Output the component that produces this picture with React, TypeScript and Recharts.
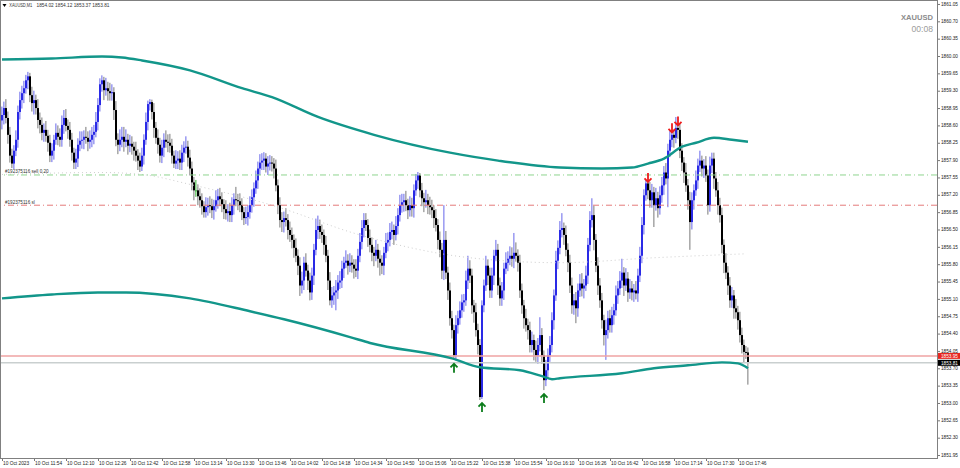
import { ComposedChart, Bar, Line, XAxis, YAxis, ReferenceLine } from 'recharts';

// XAUUSD M1, 10 Oct 2023 11:38 .. 17:51 (one value per minute bar)
const firstOpen = 1858.70;
const closes = [
  1858.81, 1858.95, 1858.75, 1858.41, 1857.99, 1857.83, 1858.09, 1858.31, 1858.87, 1859.11, 1859.25, 1859.35, 1859.51, 1859.59, 1859.21, 1859.05, 1859.11, 1858.95, 1858.71, 1858.61,
  1858.45, 1858.51, 1858.39, 1858.25, 1857.99, 1858.09, 1858.31, 1858.45, 1858.37, 1858.31, 1858.61, 1858.75, 1858.59, 1858.51, 1858.31, 1858.05, 1857.85, 1857.93, 1858.21, 1858.29,
  1858.31, 1858.37, 1858.35, 1858.27, 1858.31, 1858.41, 1858.47, 1858.67, 1859.01, 1859.43, 1859.51, 1859.31, 1859.35, 1859.29, 1859.25, 1859.27, 1858.91, 1858.31, 1858.21, 1858.31,
  1858.37, 1858.27, 1858.31, 1858.19, 1858.23, 1858.17, 1858.09, 1857.99, 1857.89, 1857.77, 1857.99, 1858.31, 1858.67, 1859.03, 1859.07, 1858.87, 1858.55, 1858.35, 1858.21, 1857.99,
  1858.15, 1858.31, 1858.27, 1858.25, 1858.19, 1857.99, 1857.83, 1857.89, 1857.93, 1857.85, 1858.05, 1858.15, 1858.17, 1857.95, 1857.73, 1857.45, 1857.29, 1857.29, 1857.17, 1857.09,
  1856.97, 1856.85, 1856.95, 1856.99, 1856.97, 1856.89, 1856.97, 1857.09, 1857.17, 1857.11, 1857.01, 1856.91, 1856.83, 1856.87, 1856.79, 1856.99, 1857.11, 1857.09, 1857.07, 1856.99,
  1856.85, 1856.73, 1856.75, 1856.85, 1856.99, 1857.15, 1857.33, 1857.49, 1857.73, 1857.85, 1857.89, 1857.93, 1857.77, 1857.83, 1857.85, 1857.83, 1857.73, 1857.39, 1856.99, 1856.69,
  1856.65, 1856.73, 1856.69, 1856.49, 1856.39, 1856.29, 1856.13, 1855.97, 1855.77, 1855.37, 1855.47, 1855.83, 1855.67, 1855.47, 1855.23, 1855.57, 1856.09, 1856.49, 1856.57, 1856.45,
  1856.39, 1856.19, 1855.97, 1855.47, 1855.07, 1855.17, 1855.23, 1855.27, 1855.43, 1855.47, 1855.71, 1855.83, 1855.87, 1855.77, 1855.83, 1855.79, 1855.71, 1855.67, 1855.97, 1856.25,
  1856.53, 1856.69, 1856.59, 1856.33, 1856.19, 1856.03, 1855.97, 1856.09, 1855.91, 1855.83, 1855.77, 1856.03, 1856.23, 1856.29, 1856.45, 1856.49, 1856.39, 1856.57, 1856.79, 1856.99,
  1857.05, 1857.09, 1856.99, 1856.89, 1856.99, 1856.93, 1857.29, 1857.49, 1857.59, 1857.29, 1857.13, 1857.05, 1857.09, 1856.99, 1856.95, 1856.89, 1856.73, 1856.59, 1856.29, 1856.09,
  1855.67, 1856.29, 1855.63, 1855.27, 1854.71, 1854.47, 1853.96, 1854.57, 1854.71, 1854.87, 1855.03, 1855.07, 1855.47, 1855.71, 1855.57, 1854.97, 1854.83, 1854.47, 1854.17, 1853.12,
  1854.97, 1855.37, 1855.77, 1855.57, 1855.27, 1855.57, 1855.97, 1856.09, 1855.37, 1855.11, 1855.27, 1855.71, 1855.83, 1855.91, 1855.97, 1855.91, 1856.03, 1855.97, 1855.83, 1855.27,
  1854.97, 1854.71, 1854.57, 1854.47, 1854.17, 1854.27, 1854.07, 1853.96, 1854.17, 1854.37, 1853.96, 1853.46, 1853.66, 1853.96, 1854.17, 1854.67, 1855.17, 1855.87, 1856.13, 1856.49,
  1856.53, 1856.39, 1856.09, 1855.83, 1855.37, 1854.97, 1855.07, 1854.91, 1855.27, 1855.41, 1855.31, 1855.37, 1855.57, 1856.19, 1856.69, 1856.79, 1856.29, 1855.77, 1855.37, 1855.07,
  1854.67, 1854.37, 1854.47, 1854.71, 1854.57, 1854.77, 1854.87, 1855.17, 1855.31, 1855.47, 1855.63, 1855.37, 1855.51, 1855.23, 1855.31, 1855.23, 1855.27, 1855.21, 1855.57, 1855.97,
  1856.59, 1857.19, 1857.43, 1857.29, 1857.09, 1857.25, 1856.99, 1857.13, 1856.93, 1857.19, 1857.39, 1857.65, 1857.53, 1858.09, 1858.31, 1858.41, 1858.35, 1858.55, 1858.51, 1858.09,
  1857.85, 1857.65, 1857.39, 1857.09, 1856.65, 1857.09, 1857.29, 1857.49, 1857.79, 1857.89, 1857.73, 1857.79, 1857.59, 1856.99, 1857.79, 1857.93, 1857.53, 1857.29, 1856.99, 1856.79,
  1856.19, 1855.83, 1855.63, 1855.37, 1855.07, 1855.17, 1854.91, 1854.83, 1854.67, 1854.37, 1854.17, 1854.03, 1854.02, 1853.81,
];
const highs = [
  1858.98, 1859.08, 1859.13, 1858.88, 1858.57, 1858.13, 1858.20, 1858.50, 1859.00, 1859.28, 1859.40, 1859.50, 1859.62, 1859.68, 1859.66, 1859.38, 1859.30, 1859.22, 1859.13, 1858.86,
  1858.76, 1858.64, 1858.69, 1858.51, 1858.41, 1858.24, 1858.41, 1858.64, 1858.60, 1858.54, 1858.80, 1858.91, 1858.93, 1858.72, 1858.67, 1858.45, 1858.15, 1858.13, 1858.34, 1858.48,
  1858.48, 1858.50, 1858.57, 1858.48, 1858.50, 1858.57, 1858.61, 1858.87, 1859.15, 1859.55, 1859.61, 1859.58, 1859.56, 1859.48, 1859.46, 1859.43, 1859.37, 1859.09, 1858.44, 1858.52,
  1858.57, 1858.57, 1858.52, 1858.43, 1858.41, 1858.38, 1858.27, 1858.27, 1858.12, 1858.05, 1858.15, 1858.42, 1858.86, 1859.10, 1859.13, 1859.12, 1859.05, 1858.67, 1858.52, 1858.35,
  1858.31, 1858.44, 1858.50, 1858.42, 1858.43, 1858.33, 1858.09, 1858.10, 1858.08, 1858.10, 1858.21, 1858.28, 1858.38, 1858.29, 1858.11, 1857.87, 1857.56, 1857.50, 1857.41, 1857.33,
  1857.23, 1857.07, 1857.15, 1857.14, 1857.17, 1857.12, 1857.10, 1857.29, 1857.32, 1857.34, 1857.25, 1857.11, 1857.09, 1857.01, 1857.04, 1857.15, 1857.23, 1857.36, 1857.22, 1857.23,
  1857.13, 1856.95, 1856.96, 1856.99, 1857.17, 1857.31, 1857.45, 1857.69, 1857.87, 1858.02, 1858.04, 1858.06, 1858.04, 1857.98, 1858.00, 1857.98, 1857.94, 1857.91, 1857.51, 1857.15,
  1856.85, 1856.86, 1856.93, 1856.81, 1856.66, 1856.54, 1856.40, 1856.32, 1856.10, 1855.94, 1855.65, 1855.95, 1856.02, 1855.79, 1855.63, 1855.73, 1856.21, 1856.72, 1856.78, 1856.70,
  1856.60, 1856.50, 1856.37, 1856.09, 1855.64, 1855.34, 1855.36, 1855.48, 1855.58, 1855.66, 1855.87, 1855.95, 1856.08, 1856.00, 1856.02, 1855.98, 1855.90, 1855.90, 1856.11, 1856.43,
  1856.69, 1856.83, 1856.83, 1856.71, 1856.50, 1856.34, 1856.15, 1856.29, 1856.21, 1856.08, 1855.98, 1856.15, 1856.43, 1856.44, 1856.63, 1856.66, 1856.60, 1856.77, 1856.93, 1857.20,
  1857.22, 1857.22, 1857.28, 1857.12, 1857.17, 1857.14, 1857.41, 1857.62, 1857.66, 1857.64, 1857.44, 1857.24, 1857.30, 1857.22, 1857.16, 1857.10, 1856.99, 1856.91, 1856.71, 1856.46,
  1856.23, 1856.99, 1856.47, 1855.75, 1855.43, 1854.86, 1854.58, 1854.77, 1854.86, 1855.05, 1855.19, 1855.20, 1855.67, 1855.97, 1855.88, 1855.71, 1855.08, 1855.02, 1854.60, 1854.29,
  1855.07, 1855.49, 1855.97, 1855.90, 1855.73, 1855.73, 1856.09, 1856.29, 1856.21, 1855.53, 1855.44, 1855.83, 1856.04, 1856.06, 1856.16, 1856.14, 1856.43, 1856.24, 1856.10, 1855.99,
  1855.41, 1855.08, 1854.90, 1854.70, 1854.64, 1854.44, 1854.38, 1854.26, 1854.31, 1854.73, 1854.51, 1854.06, 1853.87, 1854.10, 1854.35, 1854.83, 1855.29, 1856.07, 1856.28, 1856.67,
  1856.83, 1856.64, 1856.58, 1856.22, 1855.99, 1855.53, 1855.20, 1855.24, 1855.41, 1855.60, 1855.62, 1855.50, 1855.77, 1856.33, 1856.87, 1857.13, 1856.98, 1856.41, 1855.94, 1855.52,
  1855.22, 1854.78, 1854.68, 1854.86, 1854.88, 1854.94, 1855.00, 1855.37, 1855.46, 1855.66, 1855.91, 1855.74, 1855.72, 1855.64, 1855.50, 1855.46, 1855.40, 1855.46, 1855.71, 1856.15,
  1856.75, 1857.31, 1857.50, 1857.48, 1857.46, 1857.42, 1857.36, 1857.34, 1857.26, 1857.37, 1857.56, 1857.78, 1857.84, 1858.23, 1858.50, 1858.48, 1858.52, 1858.77, 1858.62, 1858.63,
  1858.24, 1857.96, 1857.84, 1857.52, 1857.26, 1857.25, 1857.41, 1857.69, 1857.93, 1858.09, 1857.99, 1857.92, 1857.98, 1857.71, 1857.97, 1858.05, 1858.05, 1857.66, 1857.46, 1857.14,
  1856.94, 1856.30, 1856.02, 1855.76, 1855.54, 1855.34, 1855.28, 1855.10, 1854.96, 1854.84, 1854.52, 1854.28, 1854.15, 1854.12,
];
const lows = [
  1858.52, 1858.62, 1858.64, 1858.23, 1857.85, 1857.74, 1857.72, 1857.98, 1858.15, 1858.72, 1858.94, 1859.05, 1859.24, 1859.33, 1859.07, 1858.88, 1858.82, 1858.82, 1858.54, 1858.44,
  1858.30, 1858.27, 1858.27, 1858.07, 1857.86, 1857.86, 1857.91, 1858.21, 1858.20, 1858.17, 1858.17, 1858.43, 1858.48, 1858.33, 1858.17, 1857.89, 1857.72, 1857.72, 1857.76, 1858.08,
  1858.13, 1858.12, 1858.23, 1858.08, 1858.13, 1858.16, 1858.22, 1858.36, 1858.50, 1858.88, 1859.28, 1859.11, 1859.20, 1859.10, 1859.10, 1859.10, 1858.71, 1858.18, 1858.02, 1858.08,
  1858.16, 1858.07, 1858.16, 1858.01, 1858.06, 1858.01, 1857.89, 1857.87, 1857.70, 1857.66, 1857.68, 1857.81, 1858.21, 1858.50, 1858.90, 1858.72, 1858.35, 1858.23, 1858.03, 1857.85,
  1857.84, 1857.96, 1858.15, 1858.06, 1858.05, 1857.83, 1857.74, 1857.72, 1857.72, 1857.70, 1857.70, 1857.86, 1858.03, 1857.77, 1857.59, 1857.29, 1857.09, 1857.16, 1856.99, 1856.94,
  1856.80, 1856.74, 1856.74, 1856.78, 1856.83, 1856.73, 1856.70, 1856.86, 1856.92, 1856.97, 1856.85, 1856.71, 1856.70, 1856.66, 1856.65, 1856.65, 1856.80, 1856.97, 1856.89, 1856.85,
  1856.69, 1856.59, 1856.61, 1856.58, 1856.72, 1856.84, 1856.96, 1857.22, 1857.32, 1857.60, 1857.70, 1857.70, 1857.65, 1857.60, 1857.69, 1857.67, 1857.53, 1857.27, 1856.81, 1856.54,
  1856.45, 1856.44, 1856.56, 1856.30, 1856.25, 1856.12, 1855.93, 1855.84, 1855.58, 1855.16, 1855.21, 1855.28, 1855.55, 1855.28, 1855.07, 1855.08, 1855.38, 1855.98, 1856.31, 1856.31,
  1856.23, 1855.99, 1855.84, 1855.28, 1854.97, 1854.92, 1854.98, 1854.87, 1855.10, 1855.30, 1855.32, 1855.52, 1855.72, 1855.59, 1855.64, 1855.63, 1855.51, 1855.54, 1855.50, 1855.84,
  1856.10, 1856.34, 1856.47, 1856.15, 1856.04, 1855.86, 1855.76, 1855.86, 1855.73, 1855.57, 1855.60, 1855.58, 1855.92, 1856.06, 1856.16, 1856.30, 1856.19, 1856.28, 1856.40, 1856.66,
  1856.84, 1856.86, 1856.87, 1856.71, 1856.76, 1856.76, 1856.74, 1857.18, 1857.32, 1857.15, 1856.97, 1856.85, 1856.94, 1856.81, 1856.80, 1856.73, 1856.53, 1856.46, 1856.10, 1855.94,
  1855.50, 1855.48, 1855.50, 1855.08, 1854.56, 1854.30, 1853.87, 1853.86, 1854.40, 1854.58, 1854.72, 1854.84, 1854.96, 1855.30, 1855.42, 1854.80, 1854.62, 1854.34, 1853.98, 1853.06,
  1853.08, 1854.83, 1855.26, 1855.38, 1855.12, 1855.12, 1855.38, 1855.86, 1855.18, 1854.96, 1854.96, 1855.08, 1855.60, 1855.66, 1855.78, 1855.75, 1855.72, 1855.85, 1855.65, 1855.12,
  1854.80, 1854.50, 1854.44, 1854.28, 1854.02, 1854.02, 1853.86, 1853.83, 1853.79, 1854.04, 1853.79, 1853.26, 1853.34, 1853.49, 1853.83, 1854.02, 1854.48, 1855.06, 1855.70, 1856.00,
  1856.34, 1856.19, 1855.96, 1855.64, 1855.22, 1854.80, 1854.78, 1854.61, 1854.74, 1855.14, 1855.15, 1855.11, 1855.26, 1855.40, 1856.06, 1856.54, 1856.08, 1855.64, 1855.18, 1854.92,
  1854.50, 1854.16, 1853.87, 1854.30, 1854.42, 1854.42, 1854.58, 1854.76, 1855.00, 1855.18, 1855.32, 1855.16, 1855.26, 1855.04, 1855.10, 1855.07, 1855.04, 1855.09, 1855.04, 1855.44,
  1855.82, 1856.40, 1857.08, 1857.11, 1856.94, 1856.94, 1856.55, 1856.88, 1856.74, 1856.80, 1857.04, 1857.20, 1857.41, 1856.95, 1857.96, 1858.16, 1858.15, 1858.24, 1858.33, 1857.94,
  1857.68, 1857.44, 1857.26, 1856.90, 1856.09, 1856.50, 1856.90, 1857.18, 1857.32, 1857.66, 1857.57, 1857.54, 1857.46, 1856.80, 1856.86, 1857.64, 1857.32, 1857.16, 1856.80, 1856.64,
  1856.02, 1855.62, 1855.50, 1855.18, 1854.92, 1854.92, 1854.70, 1854.70, 1854.48, 1854.22, 1854.00, 1853.82, 1853.89, 1853.37,
];

// channel indicator, read at a few bars (library draws the curve between them)
const upperIdx = [0, 25, 50, 60, 70, 94, 120, 135, 158, 186, 224, 248, 279, 300, 315, 323, 331, 340, 347, 356, 365, 373];
const upperBand = [1859.93, 1859.95, 1859.99, 1859.97, 1859.91, 1859.71, 1859.35, 1859.17, 1858.77, 1858.41, 1858.05, 1857.89, 1857.75, 1857.73, 1857.75, 1857.83, 1857.93, 1858.17, 1858.25, 1858.35, 1858.31, 1858.27];
const lowerIdx = [0, 25, 48, 62, 94, 124, 141, 174, 184, 225, 239, 259, 270, 275, 279, 310, 326, 343, 360, 368, 373];
const lowerBand = [1855.11, 1855.19, 1855.23, 1855.23, 1855.11, 1854.85, 1854.69, 1854.33, 1854.21, 1853.90, 1853.72, 1853.66, 1853.54, 1853.48, 1853.50, 1853.60, 1853.70, 1853.76, 1853.82, 1853.80, 1853.70];
const midIdx = [0, 50, 70, 94, 135, 179, 234, 279, 326, 372];
const midBand = [1857.61, 1857.65, 1857.61, 1857.41, 1856.99, 1856.39, 1855.93, 1855.83, 1855.93, 1856.01];

const buySignalBars = [226, 240, 271];
const sellSignalBars = [323, 335, 338];

const orderPrice = 1857.60;
const stopPrice = 1856.99;
const askPrice = 1853.95;
const bidPrice = 1853.81;
const lastBar = { open: 1854.02, high: 1854.12, low: 1853.37, close: 1853.81 };

const yTicks = [
  1861.05, 1860.70, 1860.35, 1860.00, 1859.65, 1859.30, 1858.95, 1858.60, 1858.25, 1857.90, 1857.55, 1857.20, 1856.85, 1856.50,
  1856.15, 1855.80, 1855.45, 1855.10, 1854.75, 1854.40, 1854.05, 1853.70, 1853.35, 1853.00, 1852.65, 1852.30, 1851.95,
];
const timeLabels = [
  '10 Oct 2023', '10 Oct 11:54', '10 Oct 12:10', '10 Oct 12:26', '10 Oct 12:42', '10 Oct 12:58', '10 Oct 13:14', '10 Oct 13:30',
  '10 Oct 13:46', '10 Oct 14:02', '10 Oct 14:18', '10 Oct 14:34', '10 Oct 14:50', '10 Oct 15:06', '10 Oct 15:22', '10 Oct 15:38',
  '10 Oct 15:54', '10 Oct 16:10', '10 Oct 16:26', '10 Oct 16:42', '10 Oct 16:58', '10 Oct 17:14', '10 Oct 17:30', '10 Oct 17:46',
];
const labelStep = 16;
const totalSlots = 468;

const W = 960;
const H = 468;
const PLOT_RIGHT = 937;
const PLOT_BOTTOM = 458;
const FONT = '"Liberation Sans", Arial, sans-serif';
const TEAL = '#12968a';

const rows: any[] = Array.from({ length: totalSlots }, (_, i) => {
  const row: any = { i };
  if (i < closes.length) {
    // MT4 bars open where the previous one closed
    row.open = i === 0 ? firstOpen : closes[i - 1];
    row.close = closes[i];
    row.high = highs[i];
    row.low = lows[i];
    row.range = [lows[i], highs[i]];
  }
  return row;
});
upperIdx.forEach((b, k) => (rows[b].upper = upperBand[k]));
lowerIdx.forEach((b, k) => (rows[b].lower = lowerBand[k]));
midIdx.forEach((b, k) => (rows[b].mid = midBand[k]));
buySignalBars.forEach((b) => (rows[b].buy = lows[b]));
sellSignalBars.forEach((b) => (rows[b].sell = highs[b]));

const Candle = (props: any) => {
  const { x, y, width, height, payload } = props;
  if (!payload || payload.close == null || !(height > 0)) return <g />;
  const { open, close, high, low } = payload;
  const k = height / (high - low);
  const yO = y + (high - open) * k;
  const yC = y + (high - close) * k;
  const cx = Math.round(x + width / 2);
  const flat = close === open;
  const up = close > open;
  const wick = flat ? '#7fd07f' : up ? '#a0a0f2' : '#ababab';
  const body = flat ? '#3cb043' : up ? '#2a2ae6' : '#000000';
  const top = Math.min(yO, yC);
  const bh = Math.max(Math.abs(yC - yO), 1);
  return (
    <g>
      <rect x={cx - 1} y={y} width={1.6} height={height} fill={wick} />
      <rect x={cx - 1} y={top} width={2} height={bh} fill={body} />
    </g>
  );
};

const BuyArrow = (props: any) => {
  const { cx, cy, payload } = props;
  if (!payload || payload.buy == null || cy == null) return <g key={`b${props.index}`} />;
  const t = cy + 4;
  return (
    <path
      key={`b${props.index}`}
      d={`M${cx - 3.5},${t + 3.5} L${cx},${t} L${cx + 3.5},${t + 3.5} M${cx},${t} L${cx},${t + 9}`}
      stroke="#0c7d1c"
      strokeWidth={1.8}
      fill="none"
    />
  );
};

const SellArrow = (props: any) => {
  const { cx, cy, payload } = props;
  if (!payload || payload.sell == null || cy == null) return <g key={`s${props.index}`} />;
  const t = cy + 1;
  return (
    <path
      key={`s${props.index}`}
      d={`M${cx - 3.5},${t - 3.5} L${cx},${t} L${cx + 3.5},${t - 3.5} M${cx},${t} L${cx},${t - 9}`}
      stroke="#ee1c1c"
      strokeWidth={1.8}
      fill="none"
    />
  );
};

const TimeTick = ({ x, payload }: any) => {
  const label = timeLabels[Math.round(payload.value / labelStep)];
  return (
    <g>
      <line x1={x + 0.5} x2={x + 0.5} y1={PLOT_BOTTOM} y2={PLOT_BOTTOM + 3} stroke="#777" />
      <text x={x + 1} y={PLOT_BOTTOM + 6.5} fontSize={4.8} fill="#222" fontFamily={FONT}>
        {label}
      </text>
    </g>
  );
};

const PriceTick = ({ y, payload }: any) => (
  <g>
    <line x1={PLOT_RIGHT} x2={PLOT_RIGHT + 3} y1={y + 0.5} y2={y + 0.5} stroke="#777" />
    <text x={PLOT_RIGHT + 4} y={y + 1.7} fontSize={4.7} fill="#222" fontFamily={FONT}>
      {Number(payload.value).toFixed(2)}
    </text>
  </g>
);

const OrderLabel = ({ viewBox, text }: any) => (
  <text x={viewBox.x + 4} y={viewBox.y - 1.5} fontSize={4.6} fill="#333" fontFamily={FONT}>
    {text}
  </text>
);

const PriceBox = ({ viewBox, value, fill }: any) => (
  <g>
    <rect x={viewBox.x + viewBox.width} y={viewBox.y - 3} width={W - viewBox.x - viewBox.width} height={6} fill={fill} />
    <text x={viewBox.x + viewBox.width + 4} y={viewBox.y + 1.7} fontSize={4.7} fill="#fff" fontFamily={FONT}>
      {value.toFixed(2)}
    </text>
  </g>
);

export default function App() {
  return (
    <div style={{ position: 'absolute', left: 0, top: 0, width: W, height: H, background: '#fff', overflow: 'hidden' }}>
      <ComposedChart
        width={W}
        height={H}
        data={rows}
        margin={{ top: 0, right: 0, bottom: 0, left: 1 }}
        barCategoryGap={0}
      >
        <XAxis
          dataKey="i"
          type="category"
          height={10}
          ticks={timeLabels.map((_, k) => k * labelStep)}
          interval={0}
          axisLine={false}
          tickLine={false}
          tick={<TimeTick />}
        />
        <YAxis
          orientation="right"
          width={23}
          domain={[1851.89, 1861.13]}
          allowDataOverflow
          ticks={yTicks}
          interval={0}
          axisLine={false}
          tickLine={false}
          tick={<PriceTick />}
        />
        <Line dataKey="mid" type="monotone" connectNulls stroke="#cfcfcf" strokeWidth={1} strokeDasharray="1 3" dot={false} activeDot={false} isAnimationActive={false} />
        <ReferenceLine y={orderPrice} stroke="#8fd48f" strokeDasharray="6 3 1 3" label={<OrderLabel text="#192375116 sell 0.20" />} />
        <ReferenceLine y={stopPrice} stroke="#e57a7a" strokeDasharray="6 3 1 3" label={<OrderLabel text="#192375116 sl" />} />
        <ReferenceLine y={askPrice} stroke="#efa3a3" strokeWidth={1.5} label={<PriceBox value={askPrice} fill="#e8261f" />} />
        <ReferenceLine y={bidPrice} stroke="#c9cfcf" strokeWidth={1.5} label={<PriceBox value={lastBar.close} fill="#000" />} />
        <Line dataKey="upper" type="monotone" connectNulls stroke={TEAL} strokeWidth={2.4} dot={false} activeDot={false} isAnimationActive={false} />
        <Line dataKey="lower" type="monotone" connectNulls stroke={TEAL} strokeWidth={2.4} dot={false} activeDot={false} isAnimationActive={false} />
        <Bar dataKey="range" shape={<Candle />} isAnimationActive={false} />
        <Line dataKey="buy" stroke="none" dot={<BuyArrow />} activeDot={false} isAnimationActive={false} />
        <Line dataKey="sell" stroke="none" dot={<SellArrow />} activeDot={false} isAnimationActive={false} />
      </ComposedChart>
      <div
        style={{
          position: 'absolute', left: 0, top: 0, width: PLOT_RIGHT + 1, height: PLOT_BOTTOM + 1,
          border: '1px solid #808080', boxSizing: 'border-box', pointerEvents: 'none',
        }}
      />
      <svg width={W} height={40} style={{ position: 'absolute', left: 0, top: 0, pointerEvents: 'none' }}>
        <path d="M2.5,4 L6.5,4 L4.5,7 Z" fill="#000" />
        <text x={9.3} y={7.4} fontSize={4.8} fill="#333" fontFamily={FONT} textLength={23} lengthAdjust="spacingAndGlyphs">XAUUSD,M1</text>
        <text x={36.5} y={7.4} fontSize={4.8} fill="#333" fontFamily={FONT} textLength={73} lengthAdjust="spacingAndGlyphs">
          {`${lastBar.open.toFixed(2)} ${lastBar.high.toFixed(2)} ${lastBar.low.toFixed(2)} ${lastBar.close.toFixed(2)}`}
        </text>
        <text x={933} y={20.3} fontSize={7.6} fontWeight="bold" fill="#8c8c8c" textAnchor="end" fontFamily={FONT}>XAUUSD</text>
        <text x={933} y={32} fontSize={8.6} fill="#9c9c9c" textAnchor="end" fontFamily={FONT}>00:08</text>
      </svg>
    </div>
  );
}
